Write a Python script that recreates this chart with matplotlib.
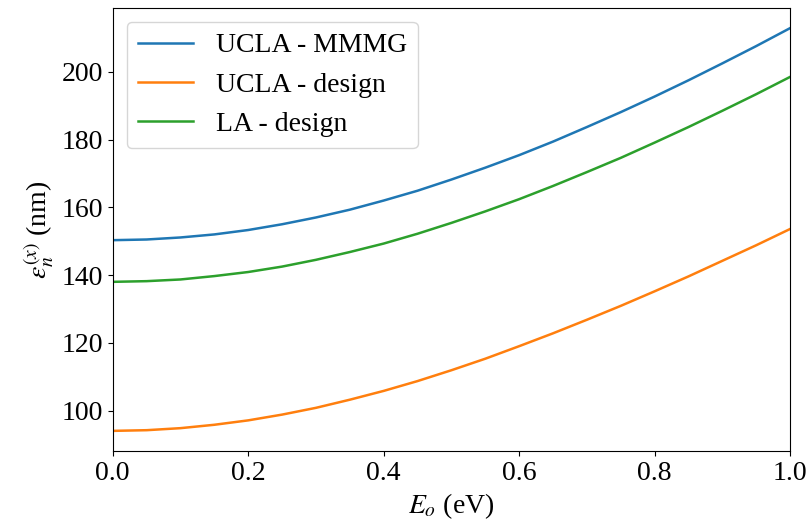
import numpy as np
import matplotlib
matplotlib.use("Agg")
import matplotlib.pyplot as plt

# excess photon energy (eV)
E_o = [0.00, 0.05, 0.10, 0.15, 0.20, 0.25, 0.30, 0.35, 0.40, 0.45, 0.50,
       0.55, 0.60, 0.65, 0.70, 0.75, 0.80, 0.85, 0.90, 0.95, 1.00]

# normalized emittance (nm)
ucla_mmmg = [150.3, 150.5, 151.1, 152.0, 153.3, 155.0, 157.0, 159.3, 162.0, 164.9, 168.2,
             171.7, 175.4, 179.4, 183.7, 188.1, 192.7, 197.5, 202.5, 207.6, 212.9]
ucla_design = [94.0, 94.2, 94.8, 95.8, 97.1, 98.8, 100.8, 103.2, 105.8, 108.7, 111.9,
               115.3, 119.0, 122.8, 126.8, 130.9, 135.2, 139.6, 144.2, 148.8, 153.6]
la_design = [138.0, 138.2, 138.7, 139.7, 140.9, 142.5, 144.5, 146.8, 149.3, 152.2, 155.4,
             158.8, 162.4, 166.3, 170.4, 174.6, 179.1, 183.7, 188.5, 193.4, 198.5]

labels = ["UCLA - MMMG", "UCLA - design", "LA - design"]

plt.rcParams["font.family"] = "Liberation Serif"
plt.rcParams["mathtext.fontset"] = "stix"
plt.rcParams["font.size"] = 20

fig = plt.figure(figsize=(8.07, 5.27), dpi=100)
ax = fig.add_axes([0.1397, 0.1442, 0.8393, 0.8406])

ax.plot(E_o, ucla_mmmg, lw=1.8, label=labels[0])
ax.plot(E_o, ucla_design, lw=1.8, label=labels[1])
ax.plot(E_o, la_design, lw=1.8, label=labels[2])

ax.set_xlim(0, 1)
ax.set_xticks([0.0, 0.2, 0.4, 0.6, 0.8, 1.0])
ax.set_yticks([100, 120, 140, 160, 180, 200])
ax.set_xlabel(r"$E_o$ (eV)")
ax.set_ylabel(r"$\varepsilon_n^{(x)}$ (nm)")
ax.legend(loc="upper left")

fig.savefig("out.png", dpi=100)
